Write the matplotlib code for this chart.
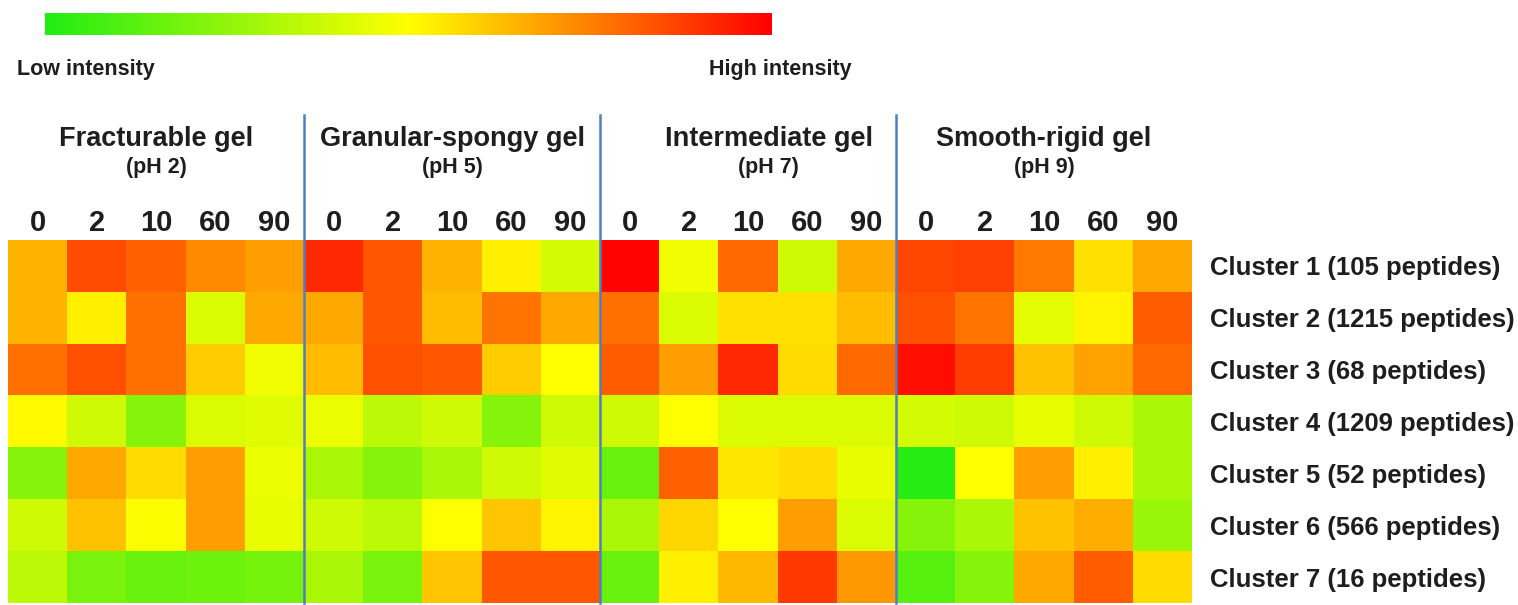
import numpy as np
import matplotlib
matplotlib.use("Agg")
import matplotlib.pyplot as plt
from matplotlib.colors import LinearSegmentedColormap

plt.rcParams["font.family"] = ["Liberation Sans", "DejaVu Sans"]
plt.rcParams["font.weight"] = "bold"

# gel types and their pH
GROUPS = ["Fracturable gel", "Granular-spongy gel", "Intermediate gel", "Smooth-rigid gel"]
GROUP_PH = ["(pH 2)", "(pH 5)", "(pH 7)", "(pH 9)"]
TIMES = ["0", "2", "10", "60", "90"]
CLUSTERS = [
    "Cluster 1 (105 peptides)",
    "Cluster 2 (1215 peptides)",
    "Cluster 3 (68 peptides)",
    "Cluster 4 (1209 peptides)",
    "Cluster 5 (52 peptides)",
    "Cluster 6 (566 peptides)",
    "Cluster 7 (16 peptides)",
]

# relative intensity (0 = low, 1 = high), one list per gel, rows = clusters
ph2 = [
    [0.65, 0.85, 0.81, 0.73, 0.69],
    [0.65, 0.53, 0.78, 0.42, 0.67],
    [0.78, 0.84, 0.78, 0.60, 0.47],
    [0.51, 0.39, 0.23, 0.42, 0.43],
    [0.23, 0.67, 0.57, 0.69, 0.46],
    [0.39, 0.62, 0.49, 0.69, 0.45],
    [0.35, 0.20, 0.16, 0.17, 0.19],
]
ph5 = [
    [0.92, 0.83, 0.65, 0.53, 0.40],
    [0.67, 0.83, 0.63, 0.77, 0.67],
    [0.63, 0.84, 0.83, 0.60, 0.50],
    [0.46, 0.35, 0.39, 0.23, 0.39],
    [0.31, 0.23, 0.31, 0.39, 0.43],
    [0.39, 0.35, 0.50, 0.61, 0.52],
    [0.31, 0.20, 0.61, 0.83, 0.83],
]
ph7 = [
    [0.99, 0.47, 0.79, 0.39, 0.67],
    [0.78, 0.42, 0.56, 0.56, 0.63],
    [0.82, 0.69, 0.92, 0.57, 0.79],
    [0.39, 0.50, 0.42, 0.42, 0.42],
    [0.16, 0.81, 0.55, 0.57, 0.45],
    [0.31, 0.58, 0.50, 0.69, 0.42],
    [0.16, 0.53, 0.64, 0.89, 0.70],
]
ph9 = [
    [0.86, 0.87, 0.76, 0.56, 0.67],
    [0.84, 0.77, 0.44, 0.52, 0.82],
    [0.97, 0.88, 0.62, 0.68, 0.79],
    [0.40, 0.39, 0.45, 0.39, 0.31],
    [0.01, 0.50, 0.69, 0.53, 0.31],
    [0.23, 0.31, 0.62, 0.66, 0.27],
    [0.12, 0.23, 0.67, 0.82, 0.57],
]

W, H = 1518, 605
TXT = "#1e1e1e"

cmap = LinearSegmentedColormap.from_list("gyr", ["#22ec14", "#ffff00", "#ff0000"])
data = np.hstack([np.array(ph2), np.array(ph5), np.array(ph7), np.array(ph9)])
n_rows, n_cols = data.shape
n_t = len(TIMES)


def fig_rect(x0, y0, x1, y1):
    # pixel box (top-left origin) -> figure fraction rect
    return [x0 / W, (H - y1) / H, (x1 - x0) / W, (y1 - y0) / H]


fig = plt.figure(figsize=(W / 100, H / 100), dpi=100)

# colour scale bar
cax = fig.add_axes(fig_rect(45, 13, 772, 35))
sm = plt.cm.ScalarMappable(cmap=cmap, norm=plt.Normalize(0, 1))
cb = fig.colorbar(sm, cax=cax, orientation="horizontal")
cb.outline.set_visible(False)
cb.set_ticks([])
fig.text(17 / W, 1 - 70 / H, "Low intensity", fontsize=15.5, color=TXT,
         ha="left", va="center")
fig.text(852 / W, 1 - 70 / H, "High intensity", fontsize=15.5, color=TXT,
         ha="right", va="center")

# heatmap
top_px, bot_px = 240, 603
ax = fig.add_axes(fig_rect(8, top_px, 1192, bot_px))
ax.imshow(data, cmap=cmap, vmin=0, vmax=1, aspect="auto", interpolation="nearest")
for s in ax.spines.values():
    s.set_visible(False)

ax.xaxis.tick_top()
ax.set_xticks(np.arange(n_cols))
ax.set_xticklabels(TIMES * len(GROUPS), fontsize=21, color=TXT)
ax.tick_params(axis="x", length=0, pad=2)

ax.yaxis.tick_right()
ax.set_yticks(np.arange(n_rows))
ax.set_yticklabels(CLUSTERS, fontsize=18.5, color=TXT)
ax.tick_params(axis="y", length=0, pad=13)

# separators between gel types
sep_top = (bot_px - 115) / (bot_px - top_px)
for g in range(1, len(GROUPS)):
    ax.axvline(g * n_t - 0.5, ymin=0, ymax=sep_top, color="#4f7fc0", lw=1.8,
               clip_on=False)

# group headers (the third one sits a bit right of centre in the original)
head_shift = [0.0, 0.0, 0.35, 0.0]
tr = ax.get_xaxis_transform()
y_title = (bot_px - 139) / (bot_px - top_px)
y_ph = (bot_px - 168) / (bot_px - top_px)
for g, (name, ph) in enumerate(zip(GROUPS, GROUP_PH)):
    cx = g * n_t + (n_t - 1) / 2 + head_shift[g]
    ax.text(cx, y_title, name, transform=tr, ha="center", va="center",
            fontsize=19.5, color=TXT)
    ax.text(cx, y_ph, ph, transform=tr, ha="center", va="center",
            fontsize=15.5, color=TXT)

fig.savefig("out.png", dpi=100, facecolor="white")
